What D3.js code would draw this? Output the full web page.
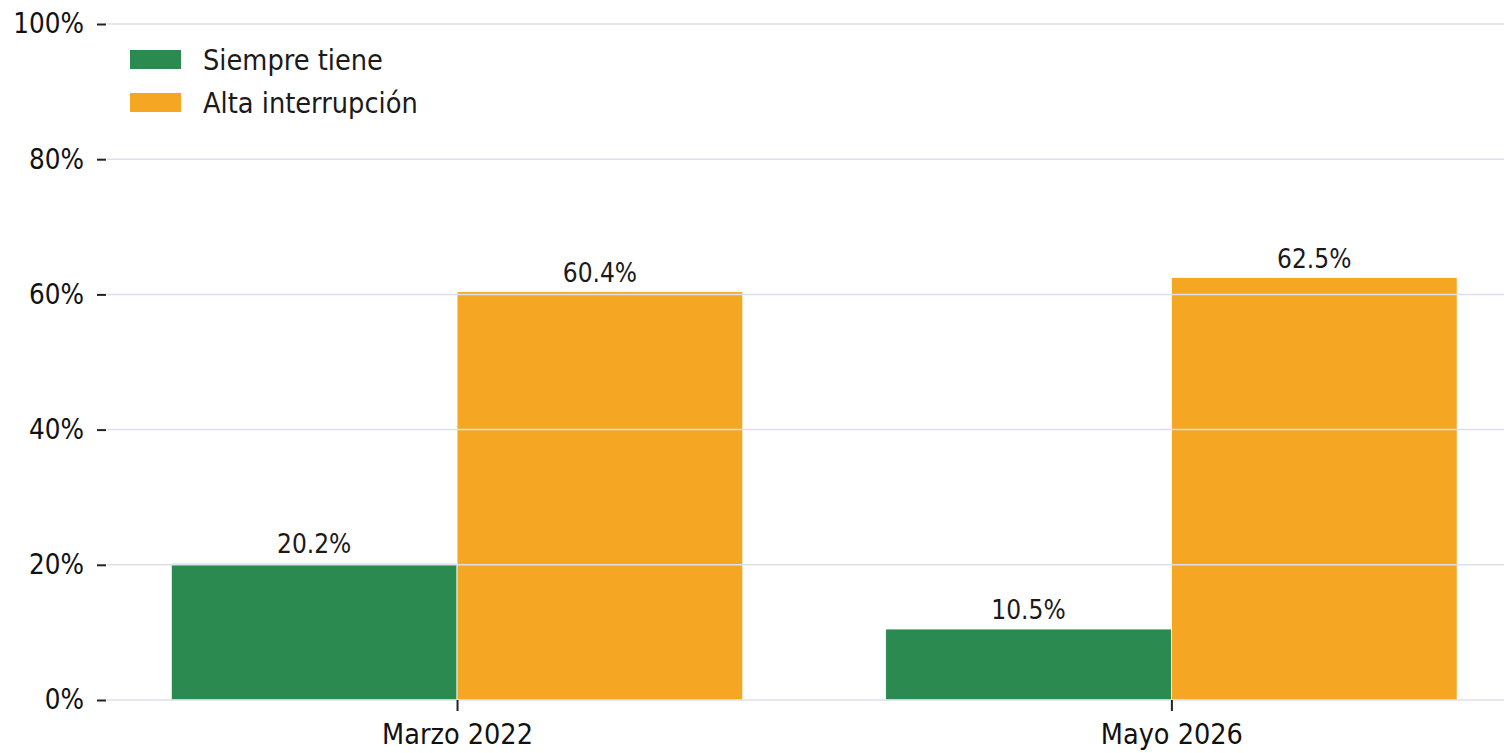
<!DOCTYPE html>
<html>
<head>
<meta charset="utf-8">
<script src="https://cdn.jsdelivr.net/npm/d3@7"></script>
<style>
  body { margin: 0; background: #fff; }
  svg { display: block; font-family: "DejaVu Sans Condensed", "DejaVu Sans", sans-serif; }
</style>
</head>
<body>
<div id="chart"></div>
<script>
// Data
const periods = ["Marzo 2022", "Mayo 2026"];
const seriesNames = ["Siempre tiene", "Alta interrupción"];
const siempreTiene = [20.2, 10.5];
const altaInterrupcion = [60.4, 62.5];
const yTicks = [0, 20, 40, 60, 80, 100];
const colors = ["#2a8a50", "#f5a623"];

const W = 1504, H = 753;
const plot = { left: 107, right: 1504, top: 24, bottom: 700 };
const FONT = "DejaVu Sans Condensed, DejaVu Sans, sans-serif";

const svg = d3.select("#chart").append("svg")
    .attr("width", W)
    .attr("height", H);

// Scales: category index on a linear scale
const x = d3.scaleLinear()
    .domain([-0.49, 1.4656])
    .range([plot.left, plot.right]);

const y = d3.scaleLinear()
    .domain([0, 100])
    .range([plot.bottom, plot.top]);

const barW = 0.4;
const series = [siempreTiene, altaInterrupcion];

// Bars
series.forEach((vals, s) => {
    svg.append("g")
        .selectAll("rect")
        .data(vals)
        .join("rect")
        .attr("x", (d, i) => x(i - barW + s * barW))
        .attr("width", x(barW) - x(0))
        .attr("y", d => y(d))
        .attr("height", d => y(0) - y(d))
        .attr("fill", colors[s])
        .attr("stroke", "#fff")
        .attr("stroke-width", 0.8);
});

// Gridlines (drawn above bars)
svg.append("g")
    .selectAll("line")
    .data(yTicks)
    .join("line")
    .attr("x1", plot.left)
    .attr("x2", plot.right)
    .attr("y1", d => y(d))
    .attr("y2", d => y(d))
    .attr("stroke", "#dcdfec")
    .attr("stroke-width", 1.5);

// Value labels
series.forEach((vals, s) => {
    svg.append("g")
        .selectAll("text")
        .data(vals)
        .join("text")
        .attr("x", (d, i) => x(i - barW / 2 + s * barW))
        .attr("y", d => y(d) - 10)
        .attr("text-anchor", "middle")
        .style("font-size", "26px")
        .style("fill", "#1a1a1a")
        .text(d => d.toFixed(1) + "%");
});

// Y axis
const yAxis = svg.append("g")
    .attr("transform", `translate(${plot.left - 1},0)`)
    .call(d3.axisLeft(y)
        .tickValues(yTicks)
        .tickSize(9)
        .tickPadding(13)
        .tickFormat(d => d + "%"));
yAxis.select(".domain").remove();
yAxis.selectAll(".tick line").attr("stroke", "#222").attr("stroke-width", 2);
yAxis.selectAll(".tick text")
    .style("font-size", "27.5px")
    .style("font-family", FONT)
    .attr("fill", "#111");

// X axis
const xAxis = svg.append("g")
    .attr("transform", `translate(0,${plot.bottom})`)
    .call(d3.axisBottom(x)
        .tickValues(periods.map((p, i) => i))
        .tickSize(11)
        .tickPadding(13)
        .tickFormat(i => periods[i]));
xAxis.select(".domain").remove();
xAxis.selectAll(".tick line").attr("stroke", "#222").attr("stroke-width", 2);
xAxis.selectAll(".tick text")
    .style("font-size", "28.5px")
    .style("font-family", FONT)
    .attr("fill", "#111");

// Legend
const legend = svg.append("g")
    .attr("transform", "translate(130,50)");

seriesNames.forEach((name, s) => {
    const row = legend.append("g")
        .attr("transform", `translate(0,${s * 43})`);
    row.append("rect")
        .attr("width", 51)
        .attr("height", 19)
        .attr("fill", colors[s]);
    row.append("text")
        .attr("x", 73)
        .attr("y", 10)
        .attr("dy", "0.35em")
        .style("font-size", "28.6px")
        .style("fill", "#1a1a1a")
        .text(name);
});
</script>
</body>
</html>
